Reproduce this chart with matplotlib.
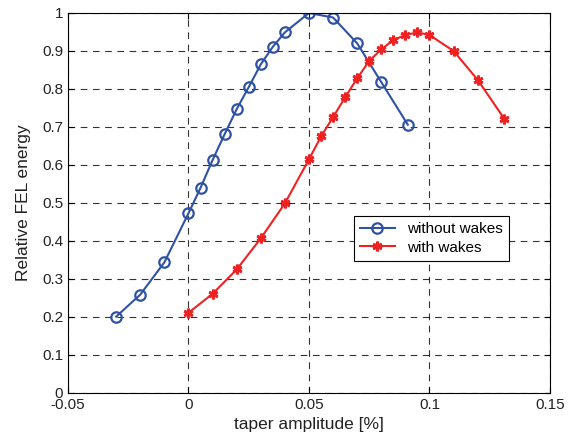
import matplotlib
matplotlib.use('Agg')
import matplotlib.pyplot as plt

plt.rcParams['font.family'] = ['Liberation Sans', 'DejaVu Sans']

taper_nowake = [-0.03, -0.02, -0.01, 0.0, 0.005, 0.01, 0.015, 0.02, 0.025,
                0.03, 0.035, 0.04, 0.05, 0.06, 0.07, 0.08, 0.091]
energy_nowake = [0.201, 0.259, 0.344, 0.473, 0.540, 0.613, 0.681, 0.747, 0.805,
                 0.865, 0.911, 0.949, 1.0, 0.988, 0.920, 0.818, 0.706]

taper_wake = [0.0, 0.01, 0.02, 0.03, 0.04, 0.05, 0.055, 0.06, 0.065, 0.07,
              0.075, 0.08, 0.085, 0.09, 0.095, 0.1, 0.11, 0.12, 0.131]
energy_wake = [0.211, 0.261, 0.325, 0.407, 0.499, 0.615, 0.675, 0.726, 0.778,
               0.828, 0.874, 0.904, 0.929, 0.942, 0.949, 0.942, 0.900, 0.824, 0.722]

fig = plt.figure(figsize=(5.69, 4.43), dpi=100)
ax = fig.add_axes([0.1195, 0.1129, 0.8471, 0.8578])

ax.plot(taper_nowake, energy_nowake, color='#2f52a6', lw=1.5, marker='o',
        ms=7.5, mfc='none', mew=1.6, label='without wakes')
ax.plot(taper_wake, energy_wake, color='#ee2222', lw=1.5, marker=(6, 2, 0),
        ms=7, mew=2, label='with wakes')

ax.set_xlim(-0.05, 0.15)
ax.set_ylim(0, 1)
ax.set_xticks([-0.05, 0, 0.05, 0.1, 0.15])
ax.set_xticklabels(['-0.05', '0', '0.05', '0.1', '0.15'])
ax.set_yticks([i / 10 for i in range(11)])
ax.set_yticklabels(['0', '0.1', '0.2', '0.3', '0.4', '0.5', '0.6', '0.7', '0.8', '0.9', '1'])
ax.tick_params(direction='in', top=True, right=True, labelsize=11, length=4,
               labelcolor='#222222')
ax.grid(True, color='black', linestyle=(0, (6, 5)), lw=0.8, alpha=0.8)

ax.set_xlabel('taper amplitude [%]', fontsize=12.5, labelpad=4, color='#222222')
ax.set_ylabel('Relative FEL energy', fontsize=12.5, labelpad=8, color='#222222')

leg = ax.legend(loc='upper right', bbox_to_anchor=(0.931, 0.486), fontsize=11,
                fancybox=False, framealpha=1, edgecolor='black',
                handlelength=2.3, borderpad=0.4, labelspacing=0.3)
leg.get_frame().set_linewidth(0.8)

fig.savefig('out.png', dpi=100)
